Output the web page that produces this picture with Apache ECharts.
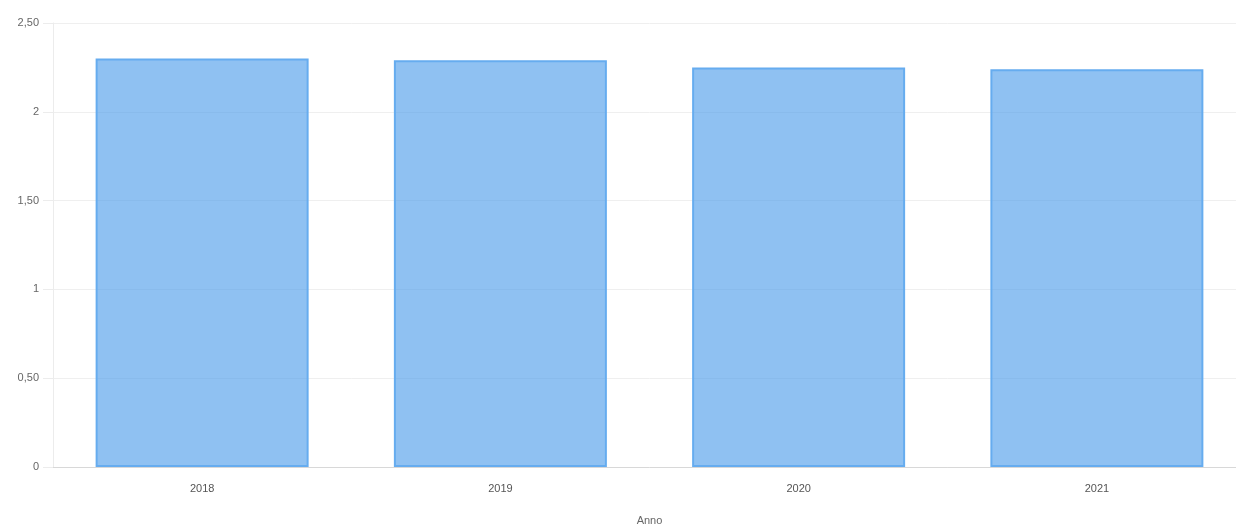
<!DOCTYPE html>
<html>
<head>
<meta charset="utf-8">
<script src="https://cdn.jsdelivr.net/npm/echarts@6/dist/echarts.min.js"></script>
<style>
  html, body { margin: 0; padding: 0; background: #fff; overflow: hidden; }
  #chart { width: 1246px; height: 527px; }
</style>
</head>
<body>
<div id="chart"></div>
<script>
// Annual values per year
const years = ['2018', '2019', '2020', '2021'];
const values = [2.30, 2.29, 2.25, 2.24];
const yTicks = [0, 0.5, 1, 1.5, 2, 2.5];

const fmt = v => (v === Math.round(v) ? String(v) : v.toFixed(2).replace('.', ','));

const chart = echarts.init(document.getElementById('chart'), null, { renderer: 'canvas' });
chart.setOption({
  animation: false,
  textStyle: { fontFamily: 'Liberation Sans, Arial, sans-serif' },
  grid: { left: 53, right: 0, top: 23, bottom: 60, containLabel: false, outerBoundsMode: 'none' },
  xAxis: {
    type: 'category',
    data: years,
    name: 'Anno',
    nameLocation: 'middle',
    nameGap: 48,
    nameTextStyle: { color: '#666', fontSize: 11 },
    axisLine: { lineStyle: { color: '#d8d8d8', width: 1 } },
    axisTick: { show: false },
    axisLabel: { color: '#555', fontSize: 11, margin: 16 },
    splitLine: { show: false }
  },
  yAxis: {
    type: 'value',
    min: yTicks[0],
    max: yTicks[yTicks.length - 1],
    interval: 0.5,
    axisLine: { show: true, lineStyle: { color: '#ececec' } },
    axisTick: { show: true, length: 10, lineStyle: { color: '#ececec' } },
    axisLabel: { color: '#666', fontSize: 11, margin: 14, formatter: fmt },
    splitLine: { lineStyle: { color: '#efefef' } }
  },
  series: [{
    type: 'bar',
    data: values,
    barWidth: 213,
    itemStyle: {
      color: 'rgba(77,157,235,0.63)',
      borderColor: '#66acef',
      borderWidth: 2
    }
  }]
});
</script>
</body>
</html>
